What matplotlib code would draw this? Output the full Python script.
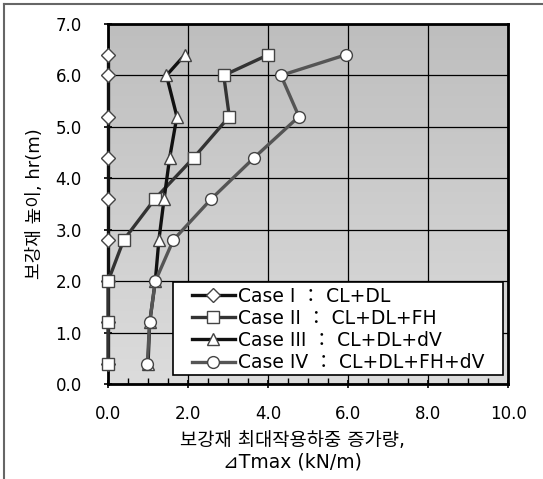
import numpy as np
import matplotlib
matplotlib.use("Agg")
import matplotlib.pyplot as plt
from matplotlib.lines import Line2D
from matplotlib.patches import Rectangle
from matplotlib.ticker import MultipleLocator

plt.rcParams['font.family'] = ['DejaVu Sans', 'Noto Sans CJK KR']

heights = [0.4, 1.2, 2.0, 2.8, 3.6, 4.4, 5.2, 6.0, 6.4]
case1 = [0.0, 0.0, 0.0, 0.0, 0.0, 0.0, 0.0, 0.0, 0.0]
case2 = [0.0, 0.0, 0.0, 0.39, 1.17, 2.14, 3.03, 2.89, 4.0]
case3 = [1.0, 1.04, 1.18, 1.27, 1.40, 1.54, 1.72, 1.46, 1.92]
case4 = [0.98, 1.04, 1.18, 1.63, 2.58, 3.65, 4.77, 4.32, 5.94]
labels = ["Case I ： CL+DL", "Case II ： CL+DL+FH",
          "Case III ： CL+DL+dV", "Case IV ： CL+DL+FH+dV"]
xticklabels = ["0.0", "2.0", "4.0", "6.0", "8.0", "10.0"]
yticklabels = ["0.0", "1.0", "2.0", "3.0", "4.0", "5.0", "6.0", "7.0"]

fig = plt.figure(figsize=(5.43, 4.79), dpi=100)
# figure frame (left and top edges)
fig.add_artist(Line2D([0.008, 0.008], [0.0, 0.992], transform=fig.transFigure,
                      color='#666666', linewidth=1.5))
fig.add_artist(Line2D([0.008, 1.0], [0.992, 0.992], transform=fig.transFigure,
                      color='#666666', linewidth=1.5))
ax = fig.add_axes([0.199, 0.198, 0.737, 0.752])

# gradient background
grad = np.linspace(0, 1, 256).reshape(-1, 1)
cmap = matplotlib.colors.LinearSegmentedColormap.from_list('g', ['#dcdcdc', '#bebebe'])
ax.imshow(grad, extent=[0, 10, 0, 7], origin='lower', aspect='auto', cmap=cmap, zorder=0)

ax.set_xlim(0, 10)
ax.set_ylim(0, 7)
ax.grid(True, color='black', linewidth=0.9, zorder=1)
ax.set_axisbelow(False)

styles = [
    (case1, 'D', '#111111', 7),
    (case2, 's', '#333333', 8.5),
    (case3, '^', '#111111', 9),
    (case4, 'o', '#555555', 8.5),
]
for (vals, m, c, ms), lab in zip(styles, labels):
    ax.plot(vals, heights, marker=m, color=c, linewidth=2.4, markersize=ms,
            markerfacecolor='white', markeredgecolor='#444444', markeredgewidth=1.0,
            label=lab, zorder=3, clip_on=False)

ax.set_xticks(np.arange(0, 10.1, 2))
ax.set_xticklabels(xticklabels)
ax.set_yticks(np.arange(0, 7.1, 1))
ax.set_yticklabels(yticklabels)
ax.xaxis.set_minor_locator(MultipleLocator(0.5))
ax.tick_params(axis='both', which='major', direction='inout', length=6, width=1.2,
               labelsize=12, colors='black')
ax.tick_params(axis='y', which='major', pad=16)
ax.tick_params(axis='x', which='major', pad=12)
ax.tick_params(axis='x', which='minor', direction='in', length=4, width=1)
for s in ax.spines.values():
    s.set_linewidth(2.0)

ax.set_ylabel("보강재 높이, hr(m)", fontsize=13)
ax.yaxis.set_label_coords(-0.16, 0.5)
ax.set_xlabel("보강재 최대작용하중 증가량,\n⊿Tmax (kN/m)", fontsize=13.5,
              linespacing=1.15)
ax.xaxis.set_label_coords(0.46, -0.13)

# legend frame (drawn separately to get the wide side padding)
ax.add_patch(Rectangle((0.1625, 0.025), 0.825, 0.258, transform=ax.transAxes,
                       facecolor='white', edgecolor='black', linewidth=1.2, zorder=5,
                       clip_on=False))
leg = ax.legend(loc='center', bbox_to_anchor=(0.576, 0.152), fontsize=13.5,
                frameon=False, handlelength=2.25, handletextpad=0.2,
                borderpad=0.0, labelspacing=0.17, borderaxespad=0)
leg.set_zorder(6)

fig.savefig("out.png", dpi=100)
